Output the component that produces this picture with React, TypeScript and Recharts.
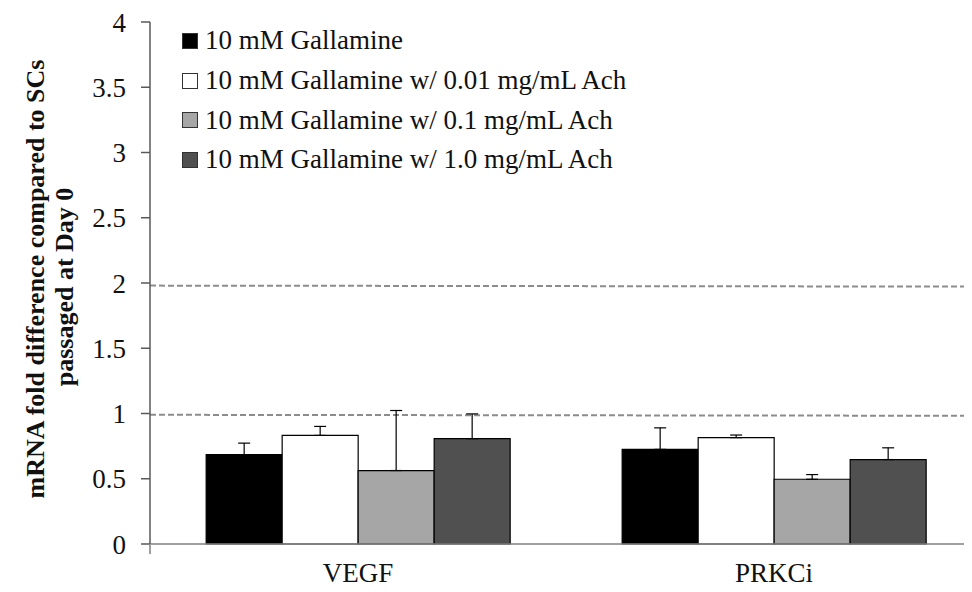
import React from 'react';
import { BarChart, Bar, XAxis, YAxis, Legend, ErrorBar, ReferenceLine } from 'recharts';

const genes = ['VEGF', 'PRKCi'];

const seriesNames = [
  '10 mM Gallamine',
  '10 mM Gallamine w/ 0.01 mg/mL Ach',
  '10 mM Gallamine w/ 0.1 mg/mL Ach',
  '10 mM Gallamine w/ 1.0 mg/mL Ach',
];
const seriesColors = ['#000000', '#ffffff', '#a6a6a6', '#505050'];

const gallamine = [0.685, 0.725];
const gallamineErr = [0.088, 0.165];
const ach001 = [0.832, 0.815];
const ach001Err = [0.069, 0.02];
const ach01 = [0.563, 0.496];
const ach01Err = [0.46, 0.036];
const ach10 = [0.807, 0.647];
const ach10Err = [0.19, 0.09];

const yTicks = [0, 0.5, 1, 1.5, 2, 2.5, 3, 3.5, 4];
const minorTicks = Array.from({ length: 41 }, (_, i) => i / 10);
const groupEdges = [0, 1, 2];
const upperDash = [1.98, 1.965];
const lowerDash = [0.99, 0.975];

const values = [gallamine, ach001, ach01, ach10];
const errors = [gallamineErr, ach001Err, ach01Err, ach10Err];

const data = genes.map((gene, i) => {
  const row: any = { gene };
  values.forEach((v, s) => {
    row['s' + s] = v[i];
    row['e' + s] = [0, errors[s][i]];
  });
  return row;
});

const SERIF = '"Liberation Serif", "Times New Roman", serif';

const LegendBox = ({ payload }: any) => (
  <div style={{ fontFamily: SERIF, fontSize: 27, color: '#111', whiteSpace: 'nowrap' }}>
    {(payload || []).map((p: any) => (
      <div key={p.value} style={{ height: 39.7, display: 'flex', alignItems: 'center' }}>
        <span
          style={{
            display: 'inline-block',
            width: 14,
            height: 14,
            background: p.color,
            border: '1px solid #333',
            marginRight: 7,
          }}
        />
        {p.value}
      </div>
    ))}
  </div>
);

const AxisTitle = () => (
  <g fontFamily={SERIF} fontSize={26} fontWeight="bold" fill="#111" textAnchor="middle">
    <text x={35} y={279} dominantBaseline="central" transform="rotate(-90, 35, 279)">
      mRNA fold difference compared to SCs
    </text>
    <text x={64} y={287} dominantBaseline="central" transform="rotate(-90, 64, 287)">
      passaged at Day 0
    </text>
  </g>
);

const NoLabel = () => <g />;

export default function App() {
  return (
    <div style={{ width: 972, height: 592, margin: -8, overflow: 'hidden', background: '#fff' }}>
      <BarChart
        width={990}
        height={592}
        data={data}
        margin={{ top: 22, right: 8, left: 0, bottom: 46 }}
        barCategoryGap="13.5%"
        barGap={0}
      >
        <XAxis
          xAxisId="cat"
          dataKey="gene"
          height={1}
          tickLine={false}
          tickSize={0}
          tickMargin={19}
          axisLine={{ stroke: '#808080', strokeWidth: 1.5 }}
          tick={{ fontFamily: SERIF, fontSize: 27, fill: '#111' }}
        />
        <XAxis
          xAxisId="num"
          type="number"
          domain={[0, 2]}
          ticks={groupEdges}
          interval={0}
          tick={<NoLabel />}
          axisLine={false}
          tickLine={{ stroke: '#7f7f7f', strokeWidth: 1.5 }}
          tickSize={9}
          height={1}
          allowDataOverflow
        />
        <YAxis
          domain={[0, 4]}
          ticks={yTicks}
          width={149}
          tickSize={9}
          tickMargin={15}
          axisLine={{ stroke: '#595959', strokeWidth: 1.5 }}
          tickLine={{ stroke: '#595959', strokeWidth: 1.5 }}
          tick={{ fontFamily: SERIF, fontSize: 27, fill: '#111' }}
          label={{ content: () => <AxisTitle /> }}
        />
        <YAxis
          yAxisId="minor"
          domain={[0, 4]}
          ticks={minorTicks}
          interval={0}
          width={1}
          tickSize={6}
          tick={<NoLabel />}
          axisLine={false}
          tickLine={{ stroke: '#595959', strokeWidth: 1.2 }}
        />
        <Legend
          layout="horizontal"
          verticalAlign="middle"
          align="center"
          wrapperStyle={{ top: 21, left: 182, width: 'auto' }}
          content={<LegendBox />}
        />
        <ReferenceLine
          xAxisId="num"
          segment={[{ x: 0, y: upperDash[0] }, { x: 2, y: upperDash[1] }]}
          stroke="#8c8c8c"
          strokeWidth={2}
          strokeDasharray="6 3"
          ifOverflow="visible"
        />
        <ReferenceLine
          xAxisId="num"
          segment={[{ x: 0, y: lowerDash[0] }, { x: 2, y: lowerDash[1] }]}
          stroke="#8c8c8c"
          strokeWidth={2}
          strokeDasharray="6 3"
          ifOverflow="visible"
        />
        {seriesNames.map((name, s) => (
          <Bar
            key={name}
            xAxisId="cat"
            dataKey={'s' + s}
            name={name}
            fill={seriesColors[s]}
            stroke="#000"
            strokeWidth={1.2}
            isAnimationActive={false}
          >
            <ErrorBar dataKey={'e' + s} width={6} stroke="#000" strokeWidth={1.2} direction="y" />
          </Bar>
        ))}
      </BarChart>
    </div>
  );
}
